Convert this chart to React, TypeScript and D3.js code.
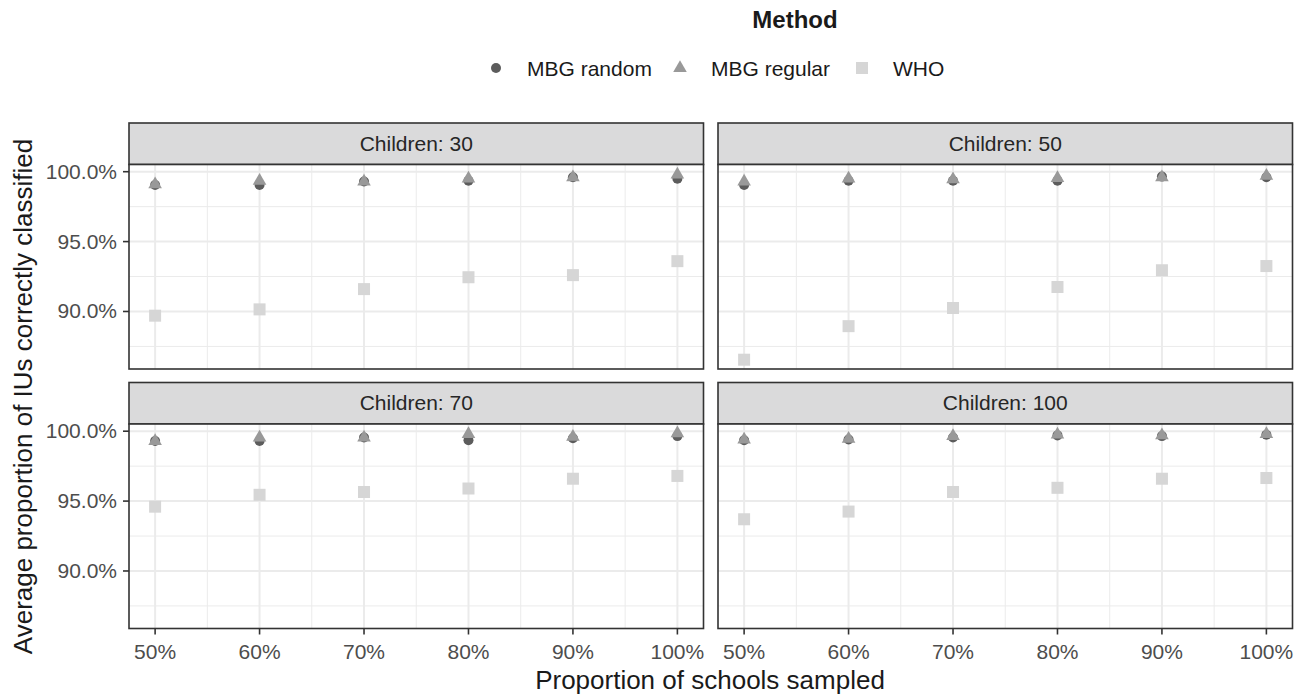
import React from "react";
import * as d3 from "d3";

// ---------- data ----------
const samples = [0.5, 0.6, 0.7, 0.8, 0.9, 1.0];
const children = ["Children: 30", "Children: 50", "Children: 70", "Children: 100"];
const methods = ["MBG random", "MBG regular", "WHO"];

const mbgRandom30 = [99.05, 99.05, 99.3, 99.35, 99.6, 99.5];
const mbgRandom50 = [99.05, 99.35, 99.35, 99.35, 99.65, 99.6];
const mbgRandom70 = [99.3, 99.3, 99.55, 99.35, 99.5, 99.65];
const mbgRandom100 = [99.35, 99.4, 99.55, 99.7, 99.65, 99.75];

const mbgRegular30 = [99.1, 99.35, 99.3, 99.5, 99.6, 99.8];
const mbgRegular50 = [99.3, 99.5, 99.45, 99.55, 99.6, 99.7];
const mbgRegular70 = [99.3, 99.55, 99.55, 99.8, 99.6, 99.85];
const mbgRegular100 = [99.4, 99.45, 99.65, 99.75, 99.7, 99.8];

const who30 = [89.7, 90.15, 91.6, 92.45, 92.6, 93.6];
const who50 = [86.55, 88.95, 90.25, 91.75, 92.95, 93.25];
const who70 = [94.6, 95.45, 95.65, 95.9, 96.6, 96.8];
const who100 = [93.7, 94.25, 95.65, 95.95, 96.6, 96.65];

const xTicks = [0.5, 0.6, 0.7, 0.8, 0.9, 1.0];
const xMinor = [0.55, 0.65, 0.75, 0.85, 0.95];
const yTicks = [90, 95, 100];
const yMinor = [87.5, 92.5, 97.5];

const randomByPanel = [mbgRandom30, mbgRandom50, mbgRandom70, mbgRandom100];
const regularByPanel = [mbgRegular30, mbgRegular50, mbgRegular70, mbgRegular100];
const whoByPanel = [who30, who50, who70, who100];

// ---------- layout ----------
const W = 1295;
const H = 694;
const colX = [129, 718];
const stripTop = [123, 382.5];
const stripH = 41.5;
const panelW = 574.5;
const panelH = 204.5;
const FONT = "'Liberation Sans', Arial, Helvetica, sans-serif";

const colors = {
  random: "#5c5c5c",
  regular: "#999999",
  who: "#d6d6d6",
};

const allVals = [...randomByPanel.flat(), ...regularByPanel.flat(), ...whoByPanel.flat()];
const [yMin, yMax] = d3.extent(allVals) as [number, number];
const yPad = (yMax - yMin) * 0.05;

const x = d3.scaleLinear().domain([0.475, 1.025]).range([0, panelW]);
const y = d3.scaleLinear().domain([yMin - yPad, yMax + yPad]).range([panelH, 0]);

const triPath = d3.symbol().type(d3.symbolTriangle).size(80)() as string;
const fmtY = (v: number) => d3.format(".1f")(v) + "%";
const fmtX = d3.format(".0%");

function Panel({ idx }: { idx: number }) {
  const col = idx % 2;
  const row = Math.floor(idx / 2);
  const px = colX[col];
  const sTop = stripTop[row];
  const pTop = sTop + stripH;
  const showY = col === 0;
  const showX = row === 1;
  const rnd = randomByPanel[idx];
  const reg = regularByPanel[idx];
  const who = whoByPanel[idx];
  return (
    <g>
      {/* strip */}
      <rect x={px} y={sTop} width={panelW} height={stripH} fill="#dadadb" stroke="#333333" strokeWidth={1.6} />
      <text x={px + panelW / 2} y={sTop + stripH / 2 + 7} textAnchor="middle" fontSize={21} fill="#262626" fontFamily={FONT}>
        {children[idx]}
      </text>
      <g transform={`translate(${px},${pTop})`}>
        <rect x={0} y={0} width={panelW} height={panelH} fill="#ffffff" />
        {yMinor.map((v) => (
          <line key={"ym" + v} x1={0} x2={panelW} y1={y(v)} y2={y(v)} stroke="#ebebeb" strokeWidth={1} />
        ))}
        {xMinor.map((v) => (
          <line key={"xm" + v} x1={x(v)} x2={x(v)} y1={0} y2={panelH} stroke="#ebebeb" strokeWidth={1} />
        ))}
        {yTicks.map((v) => (
          <line key={"yM" + v} x1={0} x2={panelW} y1={y(v)} y2={y(v)} stroke="#ebebeb" strokeWidth={2} />
        ))}
        {xTicks.map((v) => (
          <line key={"xM" + v} x1={x(v)} x2={x(v)} y1={0} y2={panelH} stroke="#ebebeb" strokeWidth={2} />
        ))}
        {who.map((v, i) => (
          <rect key={"w" + i} x={x(samples[i]) - 6} y={y(v) - 6} width={12} height={12} fill={colors.who} />
        ))}
        {rnd.map((v, i) => (
          <circle key={"r" + i} cx={x(samples[i])} cy={y(v)} r={5} fill={colors.random} />
        ))}
        {reg.map((v, i) => (
          <path key={"g" + i} d={triPath} transform={`translate(${x(samples[i])},${y(v)})`} fill={colors.regular} />
        ))}
        <rect x={0} y={0} width={panelW} height={panelH} fill="none" stroke="#333333" strokeWidth={1.6} />
        {showY &&
          yTicks.map((v) => (
            <g key={"yt" + v}>
              <line x1={-6} x2={0} y1={y(v)} y2={y(v)} stroke="#333333" strokeWidth={1.6} />
              <text x={-12} y={y(v) + 7} textAnchor="end" fontSize={21} fill="#4d4d4d" fontFamily={FONT}>
                {fmtY(v)}
              </text>
            </g>
          ))}
        {showX &&
          xTicks.map((v) => (
            <g key={"xt" + v}>
              <line x1={x(v)} x2={x(v)} y1={panelH} y2={panelH + 6} stroke="#333333" strokeWidth={1.6} />
              <text x={x(v)} y={panelH + 30} textAnchor="middle" fontSize={21} fill="#4d4d4d" fontFamily={FONT}>
                {fmtX(v)}
              </text>
            </g>
          ))}
      </g>
    </g>
  );
}

export default function App() {
  const legendY = 68;
  const legendItems = [
    { label: methods[0], kx: 496, tx: 527, kind: "circle" },
    { label: methods[1], kx: 680, tx: 711, kind: "triangle" },
    { label: methods[2], kx: 862, tx: 893, kind: "square" },
  ];
  const yTitleCenter = (stripTop[0] + stripH + stripTop[1] + stripH + panelH) / 2;
  return (
    <svg width={W} height={H} style={{ position: "absolute", left: 0, top: 0, display: "block" }}>
      <rect x={0} y={0} width={W} height={H} fill="#ffffff" />
      <text x={795} y={28} textAnchor="middle" fontSize={24} fontWeight="bold" fill="#1a1a1a" fontFamily={FONT}>
        Method
      </text>
      {legendItems.map((it) => (
        <g key={it.label}>
          {it.kind === "circle" && <circle cx={it.kx} cy={legendY} r={5} fill={colors.random} />}
          {it.kind === "triangle" && (
            <path d={triPath} transform={`translate(${it.kx},${legendY})`} fill={colors.regular} />
          )}
          {it.kind === "square" && (
            <rect x={it.kx - 6} y={legendY - 6} width={12} height={12} fill={colors.who} />
          )}
          <text x={it.tx} y={legendY + 7.5} fontSize={21} fill="#1a1a1a" fontFamily={FONT}>
            {it.label}
          </text>
        </g>
      ))}
      {[0, 1, 2, 3].map((i) => (
        <Panel key={i} idx={i} />
      ))}
      <text x={710} y={689} textAnchor="middle" fontSize={26} fill="#1a1a1a" fontFamily={FONT}>
        Proportion of schools sampled
      </text>
      <text
        transform={`translate(32,${yTitleCenter}) rotate(-90)`}
        textAnchor="middle"
        fontSize={26}
        fill="#1a1a1a"
        fontFamily={FONT}
      >
        Average proportion of IUs correctly classified
      </text>
    </svg>
  );
}
